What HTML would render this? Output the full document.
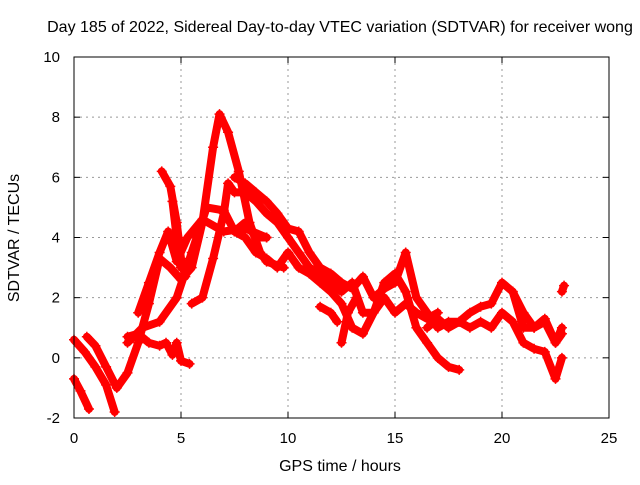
<!DOCTYPE html>
<html><head><meta charset="utf-8"><style>
body{margin:0;background:#fff}
svg text{font-family:"Liberation Sans",sans-serif;font-size:15px;fill:#000}
svg text.big{font-size:16px}
</style></head><body>
<svg id="c" width="640" height="480" xmlns="http://www.w3.org/2000/svg">
<text class="big" x="340" y="32" text-anchor="middle">Day 185 of 2022, Sidereal Day-to-day VTEC variation (SDTVAR) for receiver wong</text>
<text class="big" x="340" y="471" text-anchor="middle">GPS time / hours</text>
<text class="big" transform="translate(19,238) rotate(-90)" text-anchor="middle">SDTVAR / TECUs</text>
<g id="grid"></g><g id="series"></g>
<rect x="74" y="57" width="535" height="361" fill="none" stroke="#000" stroke-width="1"/>
</svg>
<script>
const xTicks=[0,5,10,15,20,25];
const yTicks=[-2,0,2,4,6,8,10];
const trackA=[[0,0.6],[0.5,0.2],[1,-0.3],[1.5,-0.9],[1.9,-1.8]];
const trackA2=[[0,-0.7],[0.3,-1.1],[0.7,-1.7]];
const trackB=[[0.6,0.7],[1,0.4],[1.5,-0.3],[2,-1.0],[2.5,-0.5],[3,0.5],[3.5,1.8],[4,3.3],[4.5,3.0],[5,2.6],[5.5,3.0],[6,4.5],[6.5,7],[6.8,8.1],[7.2,7.5],[7.7,6.2],[8.2,4.5],[8.7,3.5],[9,3.2],[9.8,3]];
const trackC=[[2.5,0.5],[3.2,1.0],[4,1.2],[4.8,2.0],[5.5,3.5],[6.2,5],[7,4.9],[7.5,4.2],[8,4.5],[8.5,4.0],[9,4.0]];
const trackD=[[2.5,0.7],[3,0.8],[3.5,0.5],[4,0.4],[4.3,0.5],[4.6,0.1],[4.8,0.5],[5,-0.1],[5.4,-0.2]];
const trackE=[[3,1.5],[3.5,2.5],[4,3.5],[4.4,4.2],[4.8,3.2],[5.3,4.0],[6,4.6],[7,4.2],[8,4.3],[9,4]];
const trackF=[[4.1,6.2],[4.5,5.7],[4.8,4.5],[5,3.3],[5.2,2.7]];
const trackG=[[4.6,5.2],[4.8,4.0],[5,3.0]];
const trackH=[[5.5,1.8],[6,2.0],[6.5,3.3],[7,4.8],[7.2,5.8],[7.5,5.5],[8,5.5],[8.5,5.2],[9,4.8],[9.5,4.5],[10,4.0],[10.5,3.5],[11,3.0],[11.5,2.8],[12,2.5],[12.5,2.2],[13,2.5],[13.5,1.5],[14,1.5],[14.5,2.5],[15,2.8],[15.5,2.2],[16,1.0],[16.5,0.5],[17,0],[17.5,-0.3],[18,-0.4]];
const trackI=[[7.5,6.0],[8,5.8],[8.5,5.5],[9,5.2],[9.5,4.8],[10,4.3],[10.5,4.2],[11,3.5],[11.5,3],[12,2.8],[12.5,2.5],[13,2.3],[13.5,2.7],[14,2.0],[14.5,2.3],[15,2.5],[15.5,3.5],[16,2.0],[16.5,1.5],[17,1.0],[17.5,1.2],[18,1.2],[18.5,1.5],[19,1.7],[19.5,1.8],[20,2.5],[20.5,2.2],[21,1.5],[21.5,1.0],[22,1.2],[22.5,0.5],[22.8,0.8]];
const trackJ=[[7.5,4.2],[8,4.0],[8.5,3.5],[9,3.3],[9.5,3.0],[10,3.5],[10.5,3.0],[11,2.8],[11.5,2.5],[12,2.2],[12.5,1.8],[13,1.0],[13.5,0.8],[14,1.5],[14.5,2.0],[15,1.5],[15.5,1.8],[16,1.5],[16.5,1.3],[17,1.5]];
const trackK=[[11.5,1.7],[12,1.5],[12.3,1.2]];
const trackL=[[12.5,0.5],[12.8,1.5],[13.2,2.0]];
const trackM=[[16.5,1.0],[17,1.3],[17.5,1.0],[18,1.2],[18.5,1.0],[19,1.2],[19.5,1.0],[20,1.5],[20.5,1.2],[21,0.5],[21.5,0.3],[22,0.2],[22.5,-0.7],[22.8,0]];
const trackN=[[20.5,2.2],[21,1.0],[21.5,1.0],[22,1.3],[22.5,0.5],[22.8,1.0]];
const trackO=[[22.8,2.2],[22.9,2.4]];
const tracks=[trackA,trackA2,trackB,trackC,trackD,trackE,trackF,trackG,trackH,trackI,trackJ,trackK,trackL,trackM,trackN,trackO];

const NS='http://www.w3.org/2000/svg';
const X0=74,X1=609,Y0=418,Y1=57;
function sx(t){return X0+(t-0)/(25-0)*(X1-X0);}
function sy(v){return Y0-(v-(-2))/(10-(-2))*(Y0-Y1);}
function mk(tag,attrs,parent){const e=document.createElementNS(NS,tag);for(const k in attrs)e.setAttribute(k,attrs[k]);parent.appendChild(e);return e;}
const grid=document.getElementById('grid'),ser=document.getElementById('series');
xTicks.forEach(t=>{
  const x=sx(t);
  if(t>0&&t<25){const g=mk('line',{x1:x,x2:x,y1:Y1,y2:Y0,stroke:'#999','stroke-dasharray':'2,4'},grid);
  
  }
  mk('line',{x1:x,x2:x,y1:Y0,y2:Y0-6,stroke:'#000'},grid);
  mk('line',{x1:x,x2:x,y1:Y1,y2:Y1+6,stroke:'#000'},grid);
  const l=mk('text',{x:x,y:Y0+25,'text-anchor':'middle'},grid);l.textContent=t;
  
  
});
yTicks.forEach(v=>{
  const y=sy(v);
  if(v>-2&&v<10){const g=mk('line',{x1:X0,x2:X1,y1:y,y2:y,stroke:'#999','stroke-dasharray':'2,4'},grid);
  
  }
  mk('line',{x1:X0,x2:X0+6,y1:y,y2:y,stroke:'#000'},grid);
  mk('line',{x1:X1,x2:X1-6,y1:y,y2:y,stroke:'#000'},grid);
  const l=mk('text',{x:X0-14,y:y+5,'text-anchor':'end'},grid);l.textContent=v;
  
  
});
tracks.forEach(tr=>{
  const g=mk('g',{},ser);
  
  
  mk('polyline',{points:tr.map(p=>sx(p[0])+','+sy(p[1])).join(' '),fill:'none',stroke:'#f00','stroke-width':8,'stroke-linejoin':'round','stroke-linecap':'round'},g);
  tr.forEach(p=>{
    const x=sx(p[0]),y=sy(p[1]);
    mk('path',{d:`M${x-5},${y}H${x+5}M${x},${y-5}V${y+5}`,stroke:'#f00','stroke-width':1.5},g);
  });
});
</script>
</body></html>
